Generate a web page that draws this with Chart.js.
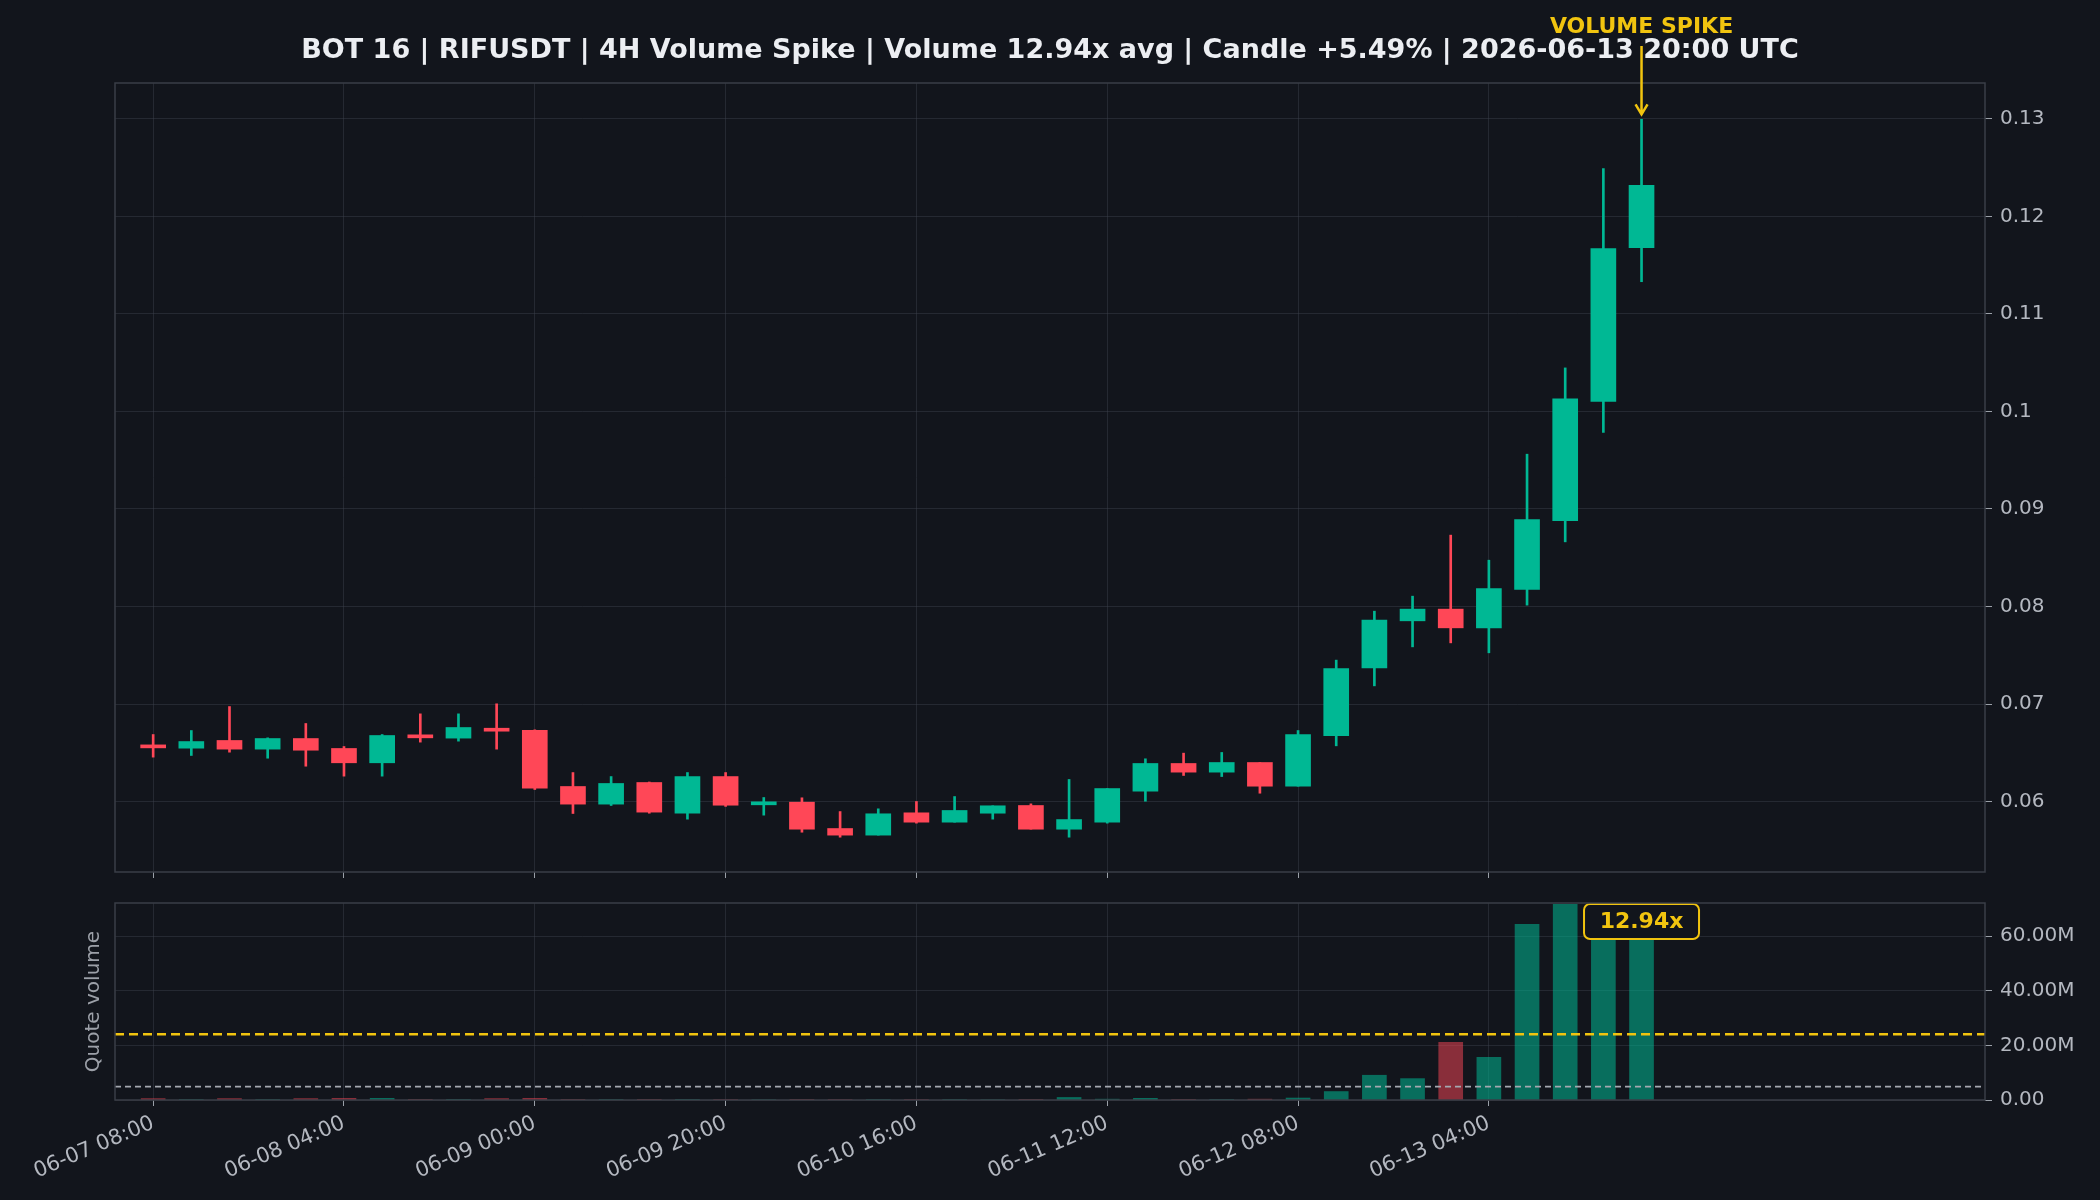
<!DOCTYPE html>
<html>
<head>
<meta charset="utf-8">
<title>RIFUSDT 4H Volume Spike</title>
<script src="https://cdn.jsdelivr.net/npm/chart.js@4.4.1/dist/chart.umd.min.js"></script>
<style>
  html, body { margin: 0; padding: 0; background: #12151c; }
  #wrap { position: relative; width: 2100px; height: 1200px; overflow: hidden; }
  .box { position: absolute; left: 0; width: 2100px; }
  #priceBox { top: 0; height: 885px; }
  #volBox { top: 885px; height: 315px; }
</style>
</head>
<body>
<div id="wrap">
  <div class="box" id="priceBox"><canvas id="priceChart" width="2100" height="885"></canvas></div>
  <div class="box" id="volBox"><canvas id="volChart" width="2100" height="315"></canvas></div>
</div>
<script>
// --------------------------------------------------
// Data: 40 x 4H candles, 06-07 08:00 -> 06-13 20:00 UTC
// --------------------------------------------------
const openP = [
  0.06560, 0.06547, 0.06626, 0.06537, 0.06646, 0.06544, 0.06397, 0.06677, 0.06650, 0.06745,
  0.06731, 0.06154, 0.05973, 0.06195, 0.05880, 0.06256, 0.05966, 0.05993, 0.05723, 0.05655,
  0.05884, 0.05788, 0.05880, 0.05959, 0.05716, 0.05788, 0.06106, 0.06390, 0.06301, 0.06400,
  0.06157, 0.06674, 0.07371, 0.07853, 0.07973, 0.07781, 0.08174, 0.08879, 0.10102, 0.11680
];
const highP = [
  0.06687, 0.06728, 0.06974, 0.06653, 0.06800, 0.06564, 0.06687, 0.06899, 0.06899, 0.07002,
  0.06735, 0.06297, 0.06256, 0.06200, 0.06297, 0.06297, 0.06041, 0.06038, 0.05897, 0.05925,
  0.06000, 0.06051, 0.05956, 0.05976, 0.06226, 0.06133, 0.06438, 0.06496, 0.06503, 0.06400,
  0.06728, 0.07450, 0.07952, 0.08106, 0.08732, 0.08475, 0.09562, 0.10447, 0.12491, 0.12997
];
const lowP = [
  0.06455, 0.06472, 0.06506, 0.06444, 0.06362, 0.06260, 0.06260, 0.06609, 0.06619, 0.06537,
  0.06123, 0.05877, 0.05959, 0.05880, 0.05819, 0.05950, 0.05860, 0.05685, 0.05634, 0.05655,
  0.05778, 0.05788, 0.05819, 0.05716, 0.05634, 0.05778, 0.06003, 0.06267, 0.06256, 0.06085,
  0.06157, 0.06571, 0.07186, 0.07586, 0.07627, 0.07525, 0.08014, 0.08663, 0.09785, 0.11331
];
const closeP = [
  0.06550, 0.06615, 0.06537, 0.06646, 0.06526, 0.06397, 0.06677, 0.06653, 0.06759, 0.06721,
  0.06137, 0.05973, 0.06185, 0.05891, 0.06256, 0.05962, 0.05990, 0.05716, 0.05655, 0.05874,
  0.05788, 0.05908, 0.05956, 0.05716, 0.05815, 0.06133, 0.06390, 0.06301, 0.06400, 0.06157,
  0.06687, 0.07364, 0.07860, 0.07973, 0.07781, 0.08185, 0.08892, 0.10130, 0.11672, 0.12320
];
// quote volume, millions USDT
const quoteVol = [
  0.5, 0.15, 0.5, 0.15, 0.5, 0.6, 0.6, 0.2, 0.2, 0.5,
  0.6, 0.2, 0.15, 0.2, 0.2, 0.15, 0.1, 0.2, 0.15, 0.15,
  0.15, 0.15, 0.1, 0.2, 0.9, 0.3, 0.6, 0.2, 0.2, 0.3,
  0.7, 3.0, 8.8, 7.6, 20.5, 15.2, 62.4, 69.5, 65.0, 61.6
];
const avgVol = 4.76;     // M, grey dashed
const spikeLevel = 23.4; // M, yellow dashed

const tickIdx = [0, 5, 10, 15, 20, 25, 30, 35];
const tickLabels = [
  "06-07 08:00", "06-08 04:00", "06-09 00:00", "06-09 20:00",
  "06-10 16:00", "06-11 12:00", "06-12 08:00", "06-13 04:00"
];
const priceTicks = [0.06, 0.07, 0.08, 0.09, 0.10, 0.11, 0.12, 0.13];
const volTicks = [0, 20, 40, 60];

const titleText = "BOT 16 | RIFUSDT | 4H Volume Spike | Volume 12.94x avg | Candle +5.49% | 2026-06-13 20:00 UTC";
const spikeText = "VOLUME SPIKE";
const ratioText = "12.94x";

// --------------------------------------------------
// Style
// --------------------------------------------------
const BG = "#12151c";
const UP = "#00b894";
const DOWN = "#ff4757";
const UP_VOL = "rgba(0,184,148,0.55)";
const DOWN_VOL = "rgba(255,71,87,0.5)";
const GRID = "rgba(62,67,78,0.45)";
const FRAME = "#3a3e47";
const TICK_MARK = "#9aa0a8";
const TICK_TXT = "#b4b8c0";
const YELLOW = "#f1c40f";

Chart.defaults.font.family = "'DejaVu Sans', sans-serif";
Chart.defaults.color = TICK_TXT;
Chart.defaults.animation = false;

const idx = openP.map((_, i) => i);
const isUp = idx.map((i) => closeP[i] >= openP[i]);
const lastIdx = idx.length - 1;

// keep the plot area exactly where the layout puts it
function noEdgePadding(s) {
  s.paddingTop = 0;
  s.paddingBottom = 0;
  s.paddingLeft = 0;
  s.paddingRight = 0;
}

function xAxis(showLabels, height) {
  return {
    type: "linear",
    min: -1,
    max: 48,
    offset: false,
    afterBuildTicks: (s) => {
      s.ticks = tickIdx.map((v) => ({ value: v }));
    },
    afterFit: (s) => {
      s.height = height;
      noEdgePadding(s);
    },
    grid: { offset: false, color: GRID, tickColor: TICK_MARK, tickLength: 6, drawTicks: true },
    border: { display: false },
    ticks: {
      display: showLabels,
      autoSkip: false,
      maxRotation: 23,
      minRotation: 23,
      padding: 5,
      color: TICK_TXT,
      font: { size: 21 },
      callback: (v) => tickLabels[tickIdx.indexOf(v)],
    },
  };
}

function yAxis(min, max, ticks, fmt) {
  return {
    position: "right",
    min,
    max,
    afterBuildTicks: (s) => {
      s.ticks = ticks.map((v) => ({ value: v }));
    },
    afterFit: (s) => {
      s.width = 115;
      noEdgePadding(s);
    },
    grid: { color: GRID, tickColor: TICK_MARK, tickLength: 7 },
    border: { display: false },
    ticks: { padding: 8, color: TICK_TXT, font: { size: 20 }, callback: fmt },
  };
}

const framePlugin = {
  id: "frame",
  afterDraw(chart) {
    const { ctx, chartArea: a } = chart;
    ctx.save();
    ctx.strokeStyle = FRAME;
    ctx.lineWidth = 1.5;
    ctx.strokeRect(a.left, a.top, a.right - a.left, a.bottom - a.top);
    ctx.restore();
  },
};

// title + spike arrow on the price panel
const priceOverlay = {
  id: "priceOverlay",
  afterDraw(chart) {
    const { ctx } = chart;
    const xs = chart.scales.x;
    const ys = chart.scales.y;
    ctx.save();
    ctx.textAlign = "center";
    ctx.textBaseline = "alphabetic";
    ctx.fillStyle = "#eceef2";
    ctx.font = "bold 27px 'DejaVu Sans'";
    ctx.fillText(titleText, 1050, 58);

    const ax = xs.getPixelForValue(lastIdx);
    const tipY = ys.getPixelForValue(highP[lastIdx]) - 5;
    ctx.fillStyle = YELLOW;
    ctx.font = "bold 22px 'DejaVu Sans'";
    ctx.fillText(spikeText, ax, 33);

    ctx.strokeStyle = YELLOW;
    ctx.lineWidth = 2.5;
    ctx.beginPath();
    ctx.moveTo(ax, 46);
    ctx.lineTo(ax, tipY);
    ctx.moveTo(ax - 6, tipY - 10);
    ctx.lineTo(ax, tipY);
    ctx.lineTo(ax + 6, tipY - 10);
    ctx.stroke();
    ctx.restore();
  },
};

// ratio badge on the volume panel
const volOverlay = {
  id: "volOverlay",
  afterDatasetsDraw(chart) {
    const { ctx, chartArea: a } = chart;
    const cx = chart.scales.x.getPixelForValue(lastIdx);
    const w = 115, h = 35;
    const top = a.top + 1;
    ctx.save();
    ctx.beginPath();
    ctx.roundRect(cx - w / 2, top, w, h, 6);
    ctx.fillStyle = BG;
    ctx.fill();
    ctx.strokeStyle = YELLOW;
    ctx.lineWidth = 2;
    ctx.stroke();
    ctx.fillStyle = YELLOW;
    ctx.font = "bold 22px 'DejaVu Sans'";
    ctx.textAlign = "center";
    ctx.textBaseline = "middle";
    ctx.fillText(ratioText, cx, top + h / 2 + 1);
    ctx.restore();
  },
};

// --------------------------------------------------
// Price (candles built from floating bars)
// --------------------------------------------------
const priceY = yAxis(0.05277, 0.13369, priceTicks, (v) => String(parseFloat(v.toFixed(4))));
priceY.z = 1; // horizontal grid drawn over the bodies

new Chart(document.getElementById("priceChart"), {
  type: "bar",
  data: {
    datasets: [
      {
        label: "body",
        data: idx.map((i) => ({ x: i, y: [openP[i], closeP[i]] })),
        backgroundColor: idx.map((i) => (isUp[i] ? UP : DOWN)),
        barThickness: 25,
        minBarLength: 3,
        grouped: false,
        borderWidth: 0,
        order: 0,
      },
      {
        label: "wick",
        data: idx.map((i) => ({ x: i, y: [lowP[i], highP[i]] })),
        backgroundColor: idx.map((i) => (isUp[i] ? UP : DOWN)),
        barThickness: 2,
        grouped: false,
        borderWidth: 0,
        order: 1,
      },
    ],
  },
  options: {
    responsive: false,
    layout: { padding: { left: 115, top: 83, right: 0, bottom: 0 } },
    plugins: { legend: { display: false }, tooltip: { enabled: false } },
    scales: {
      x: xAxis(false, 13),
      y: priceY,
    },
  },
  plugins: [framePlugin, priceOverlay],
});

// --------------------------------------------------
// Quote volume
// --------------------------------------------------
new Chart(document.getElementById("volChart"), {
  type: "bar",
  data: {
    datasets: [
      {
        type: "line",
        label: "spike level",
        data: [{ x: -1, y: spikeLevel }, { x: 48, y: spikeLevel }],
        borderColor: YELLOW,
        borderWidth: 2.5,
        borderDash: [9, 5],
        pointRadius: 0,
        order: 0,
      },
      {
        type: "line",
        label: "average",
        data: [{ x: -1, y: avgVol }, { x: 48, y: avgVol }],
        borderColor: "#a4a8b0",
        borderWidth: 1.6,
        borderDash: [6, 4],
        pointRadius: 0,
        order: 0,
      },
      {
        label: "Quote volume",
        data: idx.map((i) => ({ x: i, y: quoteVol[i] })),
        backgroundColor: idx.map((i) => (isUp[i] ? UP_VOL : DOWN_VOL)),
        barThickness: 24,
        grouped: false,
        borderWidth: 0,
        order: 1,
      },
    ],
  },
  options: {
    responsive: false,
    layout: { padding: { left: 0, top: 18, right: 0, bottom: 0 } },
    plugins: { legend: { display: false }, tooltip: { enabled: false } },
    scales: {
      x: xAxis(true, 100),
      yl: {
        position: "left",
        grid: { display: false },
        border: { display: false },
        ticks: { display: false },
        title: {
          display: true,
          text: "Quote volume",
          color: "#9ca0a8",
          font: { size: 20 },
          padding: { top: 82, bottom: 0 },
        },
        afterFit: (s) => {
          s.width = 115;
          noEdgePadding(s);
        },
      },
      y: yAxis(0, 72.1, volTicks, (v) => (v === 0 ? "0.00" : v.toFixed(2) + "M")),
    },
  },
  plugins: [framePlugin, volOverlay],
});
</script>
</body>
</html>
